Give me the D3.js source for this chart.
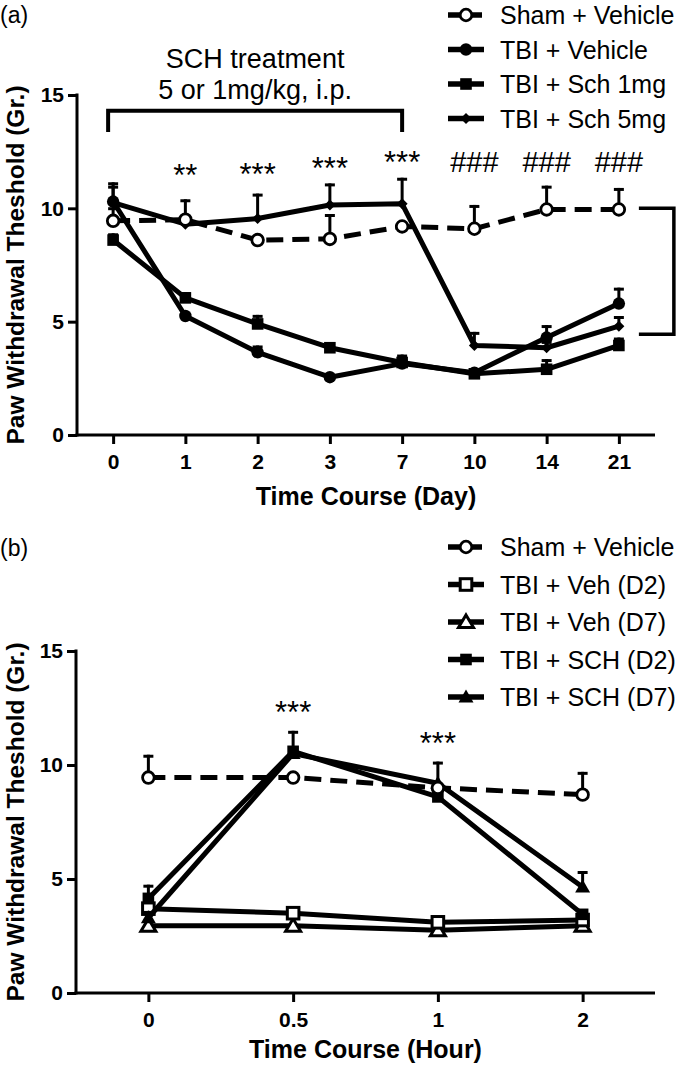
<!DOCTYPE html>
<html><head><meta charset="utf-8">
<script src="https://cdn.jsdelivr.net/npm/d3@7"></script>
<style>
body{margin:0;background:#fff}
svg{display:block}
text{font-family:"Liberation Sans",Arial,Helvetica,sans-serif;fill:#000}
</style>
</head><body>
<svg id="c" width="680" height="1069"></svg>
<script>
// ---------- Panel (a) data ----------
const daysA = ["0","1","2","3","7","10","14","21"];
const shamA      = [9.45, 9.5, 8.6, 8.65, 9.2, 9.1, 9.95, 9.95];
const shamAErr   = [0.6, 0.9, 0.2, 1.1, 0.2, 1.05, 1.05, 0.95];
const tbiVehA    = [10.3, 5.25, 3.65, 2.55, 3.15, 2.75, 4.3, 5.8];
const tbiVehAErr = [0.85, 0.15, 0.3, 0.1, 0.2, 0.2, 0.55, 0.7];
const sch1A      = [8.6, 6.05, 4.9, 3.85, 3.2, 2.7, 2.9, 3.95];
const sch1AErr   = [0.3, 0.25, 0.4, 0.1, 0.35, 0.2, 0.45, 0.35];
const sch5A      = [10.25, 9.3, 9.55, 10.15, 10.2, 3.95, 3.85, 4.8];
const sch5AErr   = [0.75, 0.2, 1.1, 0.95, 1.15, 0.6, 0.3, 0.45];
const starsA = [["1","**",10.98],["2","***",11.03],["3","***",11.29],["7","***",11.56],
                ["10","###",11.6],["14","###",11.6],["21","###",11.6]];

// ---------- Panel (b) data ----------
const hoursB = ["0","0.5","1","2"];
const shamB      = [9.45, 9.45, 9.0, 8.7];
const shamBErr   = [1.0, 0.1, 0.1, 1.0];
const vehD2B     = [3.7, 3.5, 3.1, 3.2];
const vehD2BErr  = [0.1, 0.1, 0.1, 0.1];
const vehD7B     = [2.95, 2.95, 2.75, 2.95];
const vehD7BErr  = [0.05, 0.05, 0.05, 0.05];
const schD2B     = [4.15, 10.6, 8.6, 3.45];
const schD2BErr  = [0.6, 0.9, 0.3, 0.2];
const schD7B     = [3.3, 10.5, 9.2, 4.65];
const schD7BErr  = [0.3, 0.3, 0.95, 0.7];
const starsB = [["0.5","***",11.84],["1","***",10.48]];

const yTicks = [0,5,10,15];
const yLabel = "Paw Withdrawal Theshold (Gr.)";

const svg = d3.select("#c");

function marker(g, type, x, y){
  const sw = 3;
  if(type==="openCircle"){
    g.append("circle").attr("cx",x).attr("cy",y).attr("r",5.8)
      .attr("fill","#fff").attr("stroke","#000").attr("stroke-width",2.8);
  } else if(type==="circle"){
    g.append("circle").attr("cx",x).attr("cy",y).attr("r",6.2).attr("fill","#000");
  } else if(type==="square"){
    g.append("rect").attr("x",x-5.8).attr("y",y-5.8).attr("width",11.6).attr("height",11.6).attr("fill","#000");
  } else if(type==="openSquare"){
    g.append("rect").attr("x",x-5.8).attr("y",y-5.8).attr("width",11.6).attr("height",11.6)
      .attr("fill","#fff").attr("stroke","#000").attr("stroke-width",sw);
  } else if(type==="diamond"){
    g.append("path").attr("d",`M${x},${y-5.5}L${x+5.5},${y}L${x},${y+5.5}L${x-5.5},${y}Z`).attr("fill","#000");
  } else if(type==="triangle"){
    g.append("path").attr("d",`M${x},${y-7.5}L${x+7.5},${y+5.5}L${x-7.5},${y+5.5}Z`).attr("fill","#000");
  } else if(type==="openTriangle"){
    g.append("path").attr("d",`M${x},${y-7}L${x+7.5},${y+5.5}L${x-7.5},${y+5.5}Z`)
      .attr("fill","#fff").attr("stroke","#000").attr("stroke-width",sw).attr("stroke-linejoin","miter");
  }
}

function panel(cfg){
  const g = svg.append("g");
  const x = d3.scalePoint().domain(cfg.cats).range([cfg.x0, cfg.x1]).padding(0.5);
  const y = d3.scaleLinear().domain([0,15]).range([cfg.yb, cfg.yt]);

  const ax = g.append("g").attr("transform",`translate(0,${cfg.yb})`)
    .call(d3.axisBottom(x).tickSize(9).tickPadding(10).tickSizeOuter(0));
  const ay = g.append("g").attr("transform",`translate(${cfg.x0},0)`)
    .call(d3.axisLeft(y).tickValues(yTicks).tickSize(9).tickPadding(4).tickSizeOuter(0));
  [ax,ay].forEach(a=>{
    a.select(".domain").attr("stroke","#000").attr("stroke-width",3);
    a.selectAll(".tick line").attr("stroke","#000").attr("stroke-width",3);
    a.selectAll(".tick text").attr("font-size",21).attr("font-weight","bold").attr("fill","#000")
      .attr("font-family","'Liberation Sans',Arial,sans-serif");
  });
  ax.select(".domain").attr("d",`M${cfg.x0-1.5},0H${cfg.x1}`);
  ay.select(".domain").attr("d",`M0,${y(15)-1.5}V${cfg.yb+1.5}`);

  g.append("text").attr("x",(cfg.x0+cfg.x1)/2).attr("y",cfg.titleY).attr("text-anchor","middle")
    .attr("font-size",25).attr("font-weight","bold").text(cfg.xTitle);
  g.append("text").attr("transform",`translate(${cfg.yLabX},${(cfg.yb+y(15))/2}) rotate(-90)`)
    .attr("text-anchor","middle").attr("font-size",24.5).attr("font-weight","bold").text(yLabel);
  g.append("text").attr("x",0).attr("y",cfg.tagY).attr("font-size",23).text(cfg.tag);

  const line = d3.line().x((d,i)=>x(cfg.cats[i])).y(d=>y(d));
  cfg.series.forEach(s=>{
    const sg = g.append("g");
    s.v.forEach((v,i)=>{
      const cx = x(cfg.cats[i]), y0 = y(v), y1 = y(v + s.e[i]);
      sg.append("line").attr("x1",cx).attr("x2",cx).attr("y1",y0).attr("y2",y1)
        .attr("stroke","#000").attr("stroke-width",3);
      sg.append("line").attr("x1",cx-5).attr("x2",cx+5).attr("y1",y1+1.5).attr("y2",y1+1.5)
        .attr("stroke","#000").attr("stroke-width",3);
    });
    sg.append("path").attr("d",line(s.v)).attr("fill","none").attr("stroke","#000")
      .attr("stroke-width",5).attr("stroke-linejoin","round")
      .attr("stroke-dasharray",s.dash?"17,9":null);
    s.v.forEach((v,i)=>marker(sg,s.m,x(cfg.cats[i]),y(v)));
  });

  cfg.stars.forEach(([c,t,v])=>{
    g.append("text").attr("x",x(c)).attr("y",y(v)).attr("text-anchor","middle")
      .attr("font-size",t[0]==="#"?29:31).text(t);
  });

  cfg.series.slice().sort((a,b)=>a.li-b.li).forEach((s,i)=>{
    const ly = cfg.legY + i*cfg.legDy;
    const lg = g.append("g");
    lg.append("line").attr("x1",448).attr("x2",484).attr("y1",ly).attr("y2",ly)
      .attr("stroke","#000").attr("stroke-width",5.5).attr("stroke-dasharray",s.dash?"14,6":null);
    marker(lg,s.m,466,ly);
    lg.append("text").attr("x",500).attr("y",ly).attr("dy","0.36em").attr("font-size",25).text(s.name);
  });
  return {g,x,y};
}

const A = panel({
  cats: daysA, x0:77, x1:655, yb:435, yt:95,
  xTitle:"Time Course (Day)", titleY:505, yLabX:24, tag:"(a)", tagY:23,
  legY:15, legDy:34.5,
  stars: starsA,
  series:[
    {name:"TBI + Sch 1mg", v:sch1A, e:sch1AErr, m:"square", li:2},
    {name:"TBI + Vehicle", v:tbiVehA, e:tbiVehAErr, m:"circle", li:1},
    {name:"TBI + Sch 5mg", v:sch5A, e:sch5AErr, m:"diamond", li:3},
    {name:"Sham + Vehicle", v:shamA, e:shamAErr, m:"openCircle", dash:true, li:0}
  ]
});
{
  const g=A.g, x=A.x, y=A.y;
  const xl = x("0")-5, xr = x("7");
  g.append("path").attr("d",`M${xl},${y(13.37)}V${y(14.3)}H${xr}V${y(13.37)}`)
    .attr("fill","none").attr("stroke","#000").attr("stroke-width",4);
  g.append("text").attr("x",(xl+xr)/2).attr("y",68).attr("text-anchor","middle").attr("font-size",27).text("SCH treatment");
  g.append("text").attr("x",(xl+xr)/2).attr("y",99).attr("text-anchor","middle").attr("font-size",27).text("5 or 1mg/kg, i.p.");
  const bx0 = x("21")+20, bx1 = x("21")+55;
  g.append("path").attr("d",`M${bx0},${y(10)}H${bx1}V${y(4.45)}H${bx0}`)
    .attr("fill","none").attr("stroke","#000").attr("stroke-width",3.5);
}

panel({
  cats: hoursB, x0:76, x1:655, yb:993, yt:651,
  xTitle:"Time Course (Hour)", titleY:1058, yLabX:24, tag:"(b)", tagY:556,
  legY:547, legDy:37.5,
  stars: starsB,
  series:[
    {name:"TBI + Veh (D7)", v:vehD7B, e:vehD7BErr, m:"openTriangle", li:2},
    {name:"TBI + Veh (D2)", v:vehD2B, e:vehD2BErr, m:"openSquare", li:1},
    {name:"TBI + SCH (D7)", v:schD7B, e:schD7BErr, m:"triangle", li:4},
    {name:"TBI + SCH (D2)", v:schD2B, e:schD2BErr, m:"square", li:3},
    {name:"Sham + Vehicle", v:shamB, e:shamBErr, m:"openCircle", dash:true, li:0}
  ]
});
</script>
</body></html>
